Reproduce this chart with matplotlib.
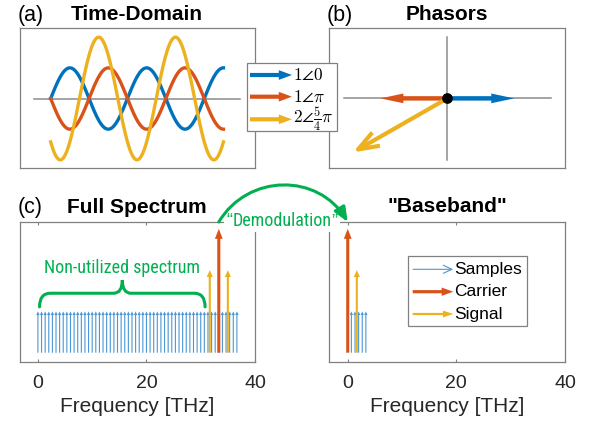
import numpy as np
import matplotlib
matplotlib.use('Agg')
from matplotlib import pyplot as plt
from matplotlib.patches import FancyArrowPatch, Rectangle, PathPatch
from matplotlib.path import Path
from matplotlib.transforms import IdentityTransform
from matplotlib.offsetbox import TextArea, HPacker, AnnotationBbox
from matplotlib import font_manager

plt.rcParams['font.family'] = ['Liberation Sans', 'DejaVu Sans']
plt.rcParams['mathtext.fontset'] = 'cm'

W, H = 591, 424

# phasors (amplitude, phase) and their labels
phasor_amp = [1, 1, 2]
phasor_phase = [0, np.pi, 1.25 * np.pi]
phasor_labels = [r'$1\angle 0$', r'$1\angle \pi$', r'$2\angle \frac{5}{4}\pi$']
phasor_colors = ['#0072BD', '#D95319', '#EDB120']
n_cycles = 2.25

# spectrum
sample_spacing = 2 / 3
n_samples = 56
carrier_freq = 33.33
signal_freqs = [31.67, 35.0]
sample_height = 1
signal_height = 2
carrier_height = 3
freq_ticks = [0, 20, 40]
brace_span = [0.3, 30.8]

GREEN = '#00B050'
SAMPLE_BLUE = '#4d97d3'
FRAME = '#808080'

# condensed face for the green notes, if one is installed
names = {f.name for f in font_manager.fontManager.ttflist}
narrow = [n for n in ['Liberation Sans Narrow', 'Roboto Condensed',
                      'Open Sans Condensed'] if n in names]
if narrow:
    NOTE_FONT = dict(family=[narrow[0], 'Liberation Sans'], fontsize=13)
else:
    NOTE_FONT = dict(family=['Liberation Sans', 'DejaVu Sans'], fontsize=11.7)


def fx(px):
    return px / W


def fy(py):
    return 1 - py / H


def px_axes(fig, l, t, r, b):
    return fig.add_axes([l / W, 1 - b / H, (r - l) / W, (b - t) / H])


def solid_arrow(x0, y0, x1, y1, color, tail, hl, hw, transform=None, z=3):
    # filled outline arrow, no stroke, so the tip lands on (x1, y1)
    p = FancyArrowPatch((x0, y0), (x1, y1),
                        arrowstyle=f'simple,head_length={hl},head_width={hw},tail_width={tail}',
                        mutation_scale=1, fc=color, ec='none', lw=0,
                        shrinkA=0, shrinkB=0, zorder=z)
    if transform is not None:
        p.set_transform(transform)
    return p


def line_arrow(x0, y0, x1, y1, color, lw, hl, hw, transform=None, z=3):
    p = FancyArrowPatch((x0, y0), (x1, y1),
                        arrowstyle=f'->,head_length={hl},head_width={hw}',
                        mutation_scale=1, color=color, lw=lw,
                        shrinkA=0, shrinkB=0, capstyle='butt', zorder=z)
    if transform is not None:
        p.set_transform(transform)
    return p


def frame(ax):
    for s in ax.spines.values():
        s.set_color(FRAME)
        s.set_linewidth(0.9)


fig = plt.figure(figsize=(W / 100, H / 100), dpi=100)

# (a) time domain
ax_a = px_axes(fig, 20, 28, 255, 167.5)
t = np.linspace(0, n_cycles * 2 * np.pi, 500)
ax_a.plot([-1.4, 15.5], [0, 0], color='#8c8c8c', lw=1.1, zorder=1)
for amp, ph, c in zip(phasor_amp, phasor_phase, phasor_colors):
    ax_a.plot(t, amp * np.sin(t + ph), color=c, lw=2.4, zorder=2)
ax_a.set_xlim(-2.51, 16.72)
ax_a.set_ylim(-2.25, 2.3)
ax_a.set_xticks([])
ax_a.set_yticks([])
frame(ax_a)

# (b) phasors
ax_b = px_axes(fig, 329, 28, 565, 168)
ax_b.plot([-1.55, 1.55], [0, 0], color='#8c8c8c', lw=1.1, zorder=1)
ax_b.plot([0, 0], [-1.6, 1.6], color='#8c8c8c', lw=1.1, zorder=1)
for amp, ph, c in zip(phasor_amp, phasor_phase, phasor_colors):
    x1, y1 = amp * np.cos(ph), amp * np.sin(ph)
    if amp > 1:
        ax_b.add_patch(line_arrow(0, 0, x1, y1, c, 3, 15, 5.5))
    else:
        ax_b.add_patch(solid_arrow(0, 0, x1, y1, c, 3.2, 16.5, 7))
ax_b.plot(0, 0, 'o', color='black', ms=6.7, zorder=5)
ax_b.set_xlim(-1.77, 1.76)
ax_b.set_ylim(-1.82, 1.84)
ax_b.set_xticks([])
ax_b.set_yticks([])
frame(ax_b)

# phasor legend (between (a) and (b))
fig.add_artist(Rectangle((fx(247), fy(131)), fx(337) - fx(247), fy(63) - fy(131),
                         transform=fig.transFigure, fc='white', ec=FRAME,
                         lw=0.9, zorder=4))
for yy, lab, c in zip([75, 96.7, 119.3], phasor_labels, phasor_colors):
    fig.add_artist(solid_arrow(fx(250), fy(yy), fx(292), fy(yy), c, 3, 9.5, 7,
                               transform=fig.transFigure, z=5))
    fig.text(fx(293), fy(yy), lab, fontsize=12.5, va='center', ha='left',
             zorder=5)

# (c) full spectrum / (d) baseband
ax_c = px_axes(fig, 20, 222, 255, 362)
ax_d = px_axes(fig, 329, 222, 565, 362)

samples = np.arange(n_samples) * sample_spacing
base_samples = samples[samples > carrier_freq + 0.1] - carrier_freq
base_signal = [f - carrier_freq for f in signal_freqs if f > carrier_freq]


def draw_spectrum(ax, samp, sig, carrier):
    for f in samp:
        ax.add_patch(solid_arrow(f, 0, f, sample_height, SAMPLE_BLUE, 0.8,
                                 2.6, 2.4))
    for f in sig:
        ax.add_patch(solid_arrow(f, 0, f, signal_height, '#EDB120', 1.5,
                                 5, 4.4, z=4))
    ax.add_patch(solid_arrow(carrier, 0, carrier, carrier_height, '#D95319',
                             2.2, 7.2, 5.6, z=5))


draw_spectrum(ax_c, samples, signal_freqs, carrier_freq)
draw_spectrum(ax_d, base_samples, base_signal, 0)

for ax, left in [(ax_c, -3.3), (ax_d, -3.45)]:
    ax.set_xlim(left, 40)
    ax.set_ylim(-0.225, 3.165)
    ax.set_xticks(freq_ticks)
    ax.set_yticks([])
    ax.tick_params(axis='x', direction='in', top=True, length=2.5, width=0.8,
                   color=FRAME, labelsize=14, labelcolor='#262626', pad=9)
    ax.set_xlabel('Frequency [THz]', fontsize=15, color='#262626', labelpad=4)
    frame(ax)

# brace over unused spectrum
b0, b1 = brace_span
bm = (b0 + b1) / 2
yl, yh, yt = 1.11, 1.44, 1.76
verts = [(b0, yl), (b0, yh), (b0 + 2.0, yh), (bm - 1.6, yh), (bm, yh), (bm, yt),
         (bm, yh), (bm + 1.6, yh), (b1 - 2.0, yh), (b1, yh), (b1, yl)]
codes = [Path.MOVETO, Path.CURVE3, Path.CURVE3, Path.LINETO, Path.CURVE3,
         Path.CURVE3, Path.CURVE3, Path.CURVE3, Path.LINETO, Path.CURVE3,
         Path.CURVE3]
ax_c.add_patch(PathPatch(Path(verts, codes), fc='none', ec=GREEN, lw=2.2,
                         capstyle='round', zorder=3))
ax_c.text(bm, 2.05, 'Non-utilized spectrum', color=GREEN,
          ha='center', va='center', **NOTE_FONT)

# demodulation arc, from carrier in (c) to 0 in (d)
p0 = ax_c.transData.transform((carrier_freq, 3.165))
p1 = ax_d.transData.transform((0, 3.165))
th = np.deg2rad(59)
k = 57
c1 = p0 + k * np.array([np.cos(th), np.sin(th)])
c2 = p1 + k * np.array([-np.cos(th), np.sin(th)])
arc = FancyArrowPatch(path=Path([p0, c1, c2, p1],
                                [Path.MOVETO, Path.CURVE4, Path.CURVE4, Path.CURVE4]),
                      arrowstyle='-|>,head_length=8.6,head_width=3.6',
                      mutation_scale=1, color=GREEN, lw=2.2, zorder=6)
arc.set_transform(IdentityTransform())
fig.add_artist(arc)

# quotes come from Liberation Sans, the word from the condensed face
quote_props = dict(color=GREEN, family='Liberation Sans', fontsize=13)
word_props = dict(color=GREEN, **NOTE_FONT)
demod = HPacker(children=[TextArea('\u201c', textprops=quote_props),
                          TextArea('Demodulation', textprops=word_props),
                          TextArea('\u201d', textprops=quote_props)],
                align='baseline', pad=0, sep=0)
ab = AnnotationBbox(demod, (fx(282), fy(221)), xycoords='figure fraction',
                    box_alignment=(0.5, 0.5), frameon=True, pad=0.15,
                    bboxprops=dict(fc='white', ec='none'), zorder=5)
fig.add_artist(ab)

# spectrum legend
fig.add_artist(Rectangle((fx(408), fy(326)), fx(527) - fx(408), fy(256) - fy(326),
                         transform=fig.transFigure, fc='white', ec=FRAME,
                         lw=0.9, zorder=4))
fig.add_artist(line_arrow(fx(412.7), fy(269.3), fx(453.3), fy(269.3),
                          SAMPLE_BLUE, 0.8, 6.5, 3, transform=fig.transFigure, z=5))
fig.add_artist(solid_arrow(fx(412.7), fy(291.7), fx(453.3), fy(291.7),
                           '#D95319', 2.3, 8.4, 6, transform=fig.transFigure, z=5))
fig.add_artist(solid_arrow(fx(412.7), fy(314), fx(453.3), fy(314),
                           '#EDB120', 1.6, 7.5, 5, transform=fig.transFigure, z=5))
for yy, lab in zip([269.3, 291.7, 314], ['Samples', 'Carrier', 'Signal']):
    fig.text(fx(454), fy(yy), lab, fontsize=12.5, va='center', ha='left',
             zorder=5)

# panel titles
for x, y, s in [(18, 20.5, '(a)'), (327, 20.5, '(b)'), (18, 213, '(c)')]:
    fig.text(fx(x), fy(y), s, fontsize=15.5, ha='left', va='baseline')
for x, y, s in [(137, 20.3, 'Time-Domain'), (447, 20.5, 'Phasors'),
                (137, 213, 'Full Spectrum'), (447, 212.5, '"Baseband"')]:
    fig.text(fx(x), fy(y), s, fontsize=15, fontweight='bold', ha='center',
             va='baseline')

fig.savefig('out.png', dpi=100)
